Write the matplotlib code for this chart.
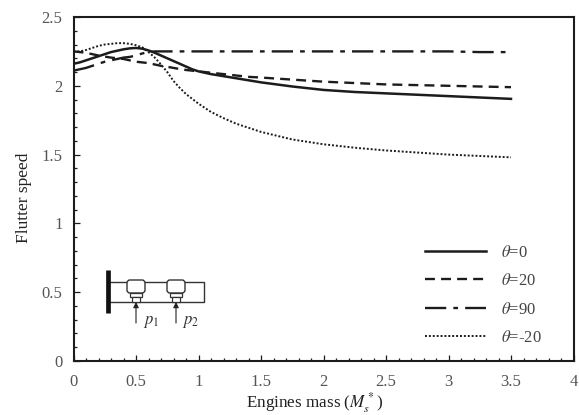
import matplotlib
matplotlib.use("Agg")
import matplotlib.pyplot as plt
from matplotlib.patches import Rectangle, FancyBboxPatch
from matplotlib.ticker import MultipleLocator

plt.rcParams['font.family'] = ['Liberation Serif']
plt.rcParams['mathtext.fontset'] = 'stix'

mass = [0, 0.05, 0.1, 0.15, 0.2, 0.25, 0.3, 0.35, 0.4, 0.45, 0.5, 0.55, 0.6, 0.65, 0.7, 0.75, 0.8, 0.85, 0.9, 0.95, 1.0,
        1.1, 1.2, 1.3, 1.4, 1.5, 1.75, 2.0, 2.25, 2.5, 2.75, 3.0, 3.25, 3.5]
theta_0 = [2.16, 2.17, 2.185, 2.2, 2.215, 2.23, 2.245, 2.255, 2.265, 2.272, 2.275, 2.27, 2.257, 2.24, 2.22, 2.2, 2.18, 2.16, 2.14, 2.12, 2.105,
           2.085, 2.07, 2.055, 2.04, 2.025, 1.995, 1.97, 1.955, 1.945, 1.935, 1.925, 1.915, 1.905]
theta_20 = [2.25, 2.245, 2.24, 2.23, 2.22, 2.212, 2.205, 2.2, 2.195, 2.185, 2.175, 2.17, 2.165, 2.155, 2.145, 2.138, 2.13, 2.122, 2.115, 2.11, 2.105,
            2.095, 2.085, 2.075, 2.065, 2.06, 2.045, 2.03, 2.02, 2.01, 2.005, 2.0, 1.995, 1.99]
theta_90 = [2.11, 2.12, 2.13, 2.145, 2.16, 2.175, 2.185, 2.195, 2.205, 2.21, 2.22, 2.235, 2.245, 2.25, 2.25, 2.25, 2.25, 2.25, 2.25, 2.25, 2.25,
            2.25, 2.25, 2.25, 2.25, 2.25, 2.25, 2.25, 2.25, 2.25, 2.25, 2.25, 2.245, 2.245]
theta_m20 = [2.25, 2.25, 2.26, 2.275, 2.29, 2.3, 2.305, 2.31, 2.31, 2.305, 2.295, 2.28, 2.245, 2.205, 2.155, 2.1, 2.035, 1.985, 1.94, 1.905, 1.87,
             1.81, 1.765, 1.725, 1.695, 1.665, 1.61, 1.575, 1.55, 1.53, 1.515, 1.5, 1.49, 1.48]
labels = [r'$\theta$=0', r'$\theta$=20', r'$\theta$=90', r'$\theta$=-20']

W, H = 579, 415
fig = plt.figure(figsize=(W/100, H/100), dpi=100)
ax = fig.add_axes([73.5/W, 1-361/H, 500/W, 344/H])
c = '#1c1c1c'
styles = [dict(ls='-', lw=1.8), dict(ls=(0, (4.2, 2.6)), lw=1.7), dict(ls=(0, (9, 3, 2, 3)), lw=1.7), dict(ls=(0, (1, 1)), lw=1.4)]
series = [theta_0, theta_20, theta_90, theta_m20]
hs = []
for s, st in zip(series, styles):
    hs.append(ax.plot(mass, s, color=c, **st)[0])

ax.set_xlim(0, 4)
ax.set_ylim(0, 2.5)
ax.xaxis.set_major_locator(MultipleLocator(0.5))
ax.xaxis.set_minor_locator(MultipleLocator(0.1))
ax.yaxis.set_major_locator(MultipleLocator(0.5))
ax.yaxis.set_minor_locator(MultipleLocator(0.1))
ax.xaxis.set_major_formatter(lambda v, p: f'{v:g}')
ax.yaxis.set_major_formatter(lambda v, p: f'{v:g}')
ax.tick_params(which='major', direction='in', length=4, width=0.9, color=c, labelsize=12, labelcolor='#555555')
ax.tick_params(axis='x', which='major', pad=9)
ax.tick_params(axis='y', which='major', pad=8)
ax.tick_params(which='minor', direction='in', length=2.2, width=0.9, color=c)
for sp in ax.spines.values():
    sp.set_linewidth(1.5)
    sp.set_color(c)
ax.set_xlabel(r'Engines mass ($M_s^*$)', fontsize=12.3, color='#222222')
ax.xaxis.set_label_coords((315-73.5)/500, -(403-361)/344, transform=ax.transAxes)
ax.xaxis.label.set_va('center')
ax.set_ylabel('Flutter speed', fontsize=12.5, color='#222222')
ax.yaxis.set_label_coords((24-73.5)/500, (361-198)/344, transform=ax.transAxes)
ax.yaxis.label.set_va('center')

ax.legend(hs, labels, loc='lower left', bbox_to_anchor=(351/500, 15/344), frameon=False, fontsize=12,
          handlelength=3.7, handletextpad=0.9, labelspacing=0.75, labelcolor='#444444', borderpad=0, borderaxespad=0)

# schematic, in pixel coordinates
sk = fig.add_axes([0, 0, 1, 1], facecolor='none')
sk.set_xlim(0, W); sk.set_ylim(H, 0); sk.axis('off')
sk.add_patch(Rectangle((108, 282), 96, 20, fill=False, ec='#333333', lw=1.0))
sk.plot([108, 108], [270, 313], color='#111111', lw=3.4, solid_capstyle='butt')
for x0 in (136, 176):
    sk.add_patch(FancyBboxPatch((x0-9, 280), 18, 13, boxstyle='round,pad=0,rounding_size=3', fc='white', ec='#333333', lw=1.0))
    sk.add_patch(Rectangle((x0-6, 293), 12, 4, fc='white', ec='#333333', lw=0.9))
    sk.add_patch(Rectangle((x0-4, 297), 8, 5, fc='white', ec='#333333', lw=0.9))
    sk.annotate('', xy=(x0, 302), xytext=(x0, 323), arrowprops=dict(arrowstyle='-|>', color='#222222', lw=0.8, mutation_scale=8, shrinkA=0, shrinkB=0))
sk.text(143, 322, r'$p_1$', fontsize=12, ha='left', va='center', color='#333333')
sk.text(182, 322, r'$p_2$', fontsize=12, ha='left', va='center', color='#333333')

fig.savefig('out.png', dpi=100)
